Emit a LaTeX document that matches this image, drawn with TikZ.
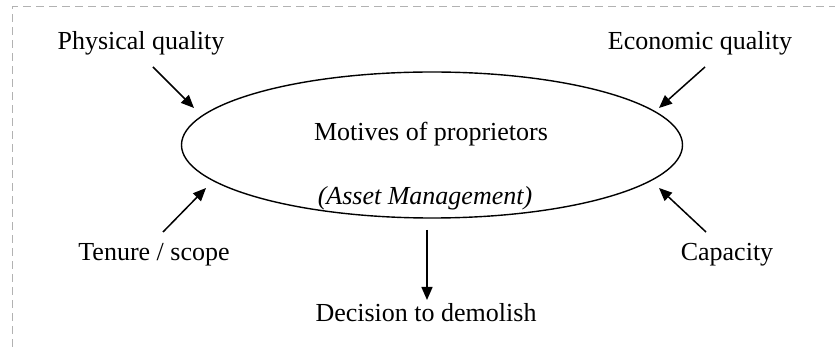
\documentclass[tikz,border=0pt]{standalone}
\usepackage{fontspec}
\setmainfont{Liberation Serif}
\usetikzlibrary{shapes.geometric,arrows.meta}
\begin{document}
\begin{tikzpicture}[x=1pt,y=-1pt,
  lbl/.style={anchor=base,inner sep=0pt,font=\fontsize{26}{30}\selectfont},
  feed/.style={line width=1.5pt,-{Triangle[length=13pt,width=11pt]}},
  frame/.style={gray!60,line width=1pt,dash pattern=on 8pt off 5pt}]
  \useasboundingbox (0,0) rectangle (835,347);
  % dashed frame (top and left edges)
  \draw[frame] (12,347) -- (12,7) -- (835,7);
  % central ellipse
  \node[ellipse,draw,line width=1.4pt,minimum width=501pt,minimum height=146pt,inner sep=0pt] (core) at (432,145) {};
  \node[lbl] (mot) at (431,141) {Motives of proprietors};
  \node[lbl] (am) at (425,205) {\itshape (Asset Management)};
  % surrounding factors
  \node[lbl] (pq) at (141,50) {Physical quality};
  \node[lbl] (eq) at (700,50) {Economic quality};
  \node[lbl] (ts) at (154,261) {Tenure / scope};
  \node[lbl] (cap) at (727,261) {Capacity};
  \node[lbl] (dec) at (426,321) {Decision to demolish};
  % arrow end points
  \coordinate (pqs) at (153,67);  \coordinate (pqe) at (194,108);
  \coordinate (eqs) at (705,67);  \coordinate (eqe) at (659,108);
  \coordinate (tss) at (163,232); \coordinate (tse) at (206,188);
  \coordinate (caps) at (706,232); \coordinate (cape) at (659,188);
  \coordinate (decs) at (427,230); \coordinate (dece) at (427,300);
  \draw[feed] (pqs) -- (pqe);
  \draw[feed] (eqs) -- (eqe);
  \draw[feed] (tss) -- (tse);
  \draw[feed] (caps) -- (cape);
  \draw[feed] (decs) -- (dece);
\end{tikzpicture}
\end{document}
